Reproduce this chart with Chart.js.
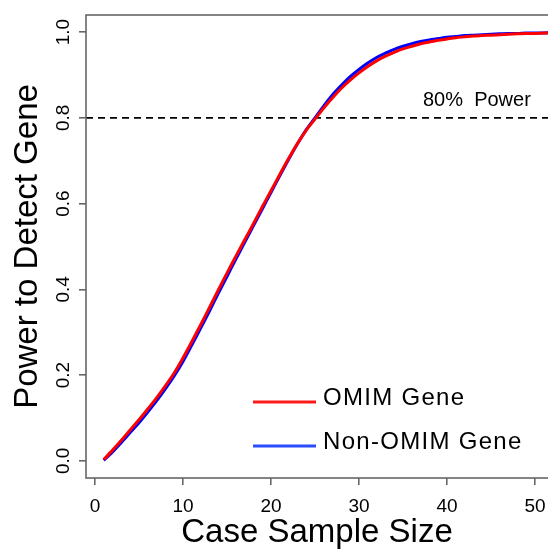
<!DOCTYPE html>
<html>
<head>
<meta charset="utf-8">
<script src="https://cdn.jsdelivr.net/npm/chart.js@4.4.1/dist/chart.umd.min.js"></script>
<style>
html,body{margin:0;padding:0;background:#fff;}
#wrap{width:548px;height:553px;}
</style>
</head>
<body>
<div id="wrap"><canvas id="c" width="548" height="553"></canvas></div>
<script>
const sampleSizes = [1,2,3,4,5,6,7,8,9,10,11,12,13,14,15,16,17,18,19,20,21,22,23,24,25,26,27,28,29,30,31,32,33,34,35,36,37,38,39,40,41,42,43,44,45,46,47,48,49,50,51,52];
const omimPower = [0.003,0.025,0.048,0.072,0.096,0.121,0.147,0.175,0.205,0.240,0.278,0.317,0.357,0.398,0.438,0.477,0.515,0.553,0.592,0.630,0.668,0.705,0.740,0.771,0.797,0.823,0.847,0.869,0.888,0.905,0.920,0.933,0.944,0.953,0.961,0.967,0.973,0.977,0.981,0.984,0.987,0.989,0.991,0.992,0.993,0.994,0.995,0.996,0.997,0.997,0.998,0.998];
const nonOmimPower = [0.001,0.021,0.043,0.066,0.089,0.114,0.140,0.168,0.198,0.232,0.270,0.309,0.349,0.390,0.430,0.470,0.509,0.548,0.587,0.626,0.665,0.703,0.739,0.772,0.800,0.828,0.854,0.876,0.896,0.913,0.928,0.941,0.951,0.960,0.967,0.973,0.978,0.982,0.985,0.988,0.990,0.992,0.993,0.994,0.995,0.996,0.997,0.997,0.998,0.998,0.998,0.999];
const seriesNames = ['OMIM Gene','Non-OMIM Gene'];
const seriesColors = ['#ff0000','#0000ff'];
const legendColors = ['#ff1a1a','#2a4dff'];
const xTickValues = [0,10,20,30,40,50];
const yTickValues = [0.0,0.2,0.4,0.6,0.8,1.0];
const thresholdValue = [0.8];
const thresholdLabel = ['80%  Power'];
const axisTitles = ['Case Sample Size','Power to Detect Gene'];

const FONT = "'Liberation Sans', Arial, Helvetica, sans-serif";

const omimPts = sampleSizes.map((n,i)=>({x:n,y:omimPower[i]}));
const nonPts = sampleSizes.map((n,i)=>({x:n,y:nonOmimPower[i]}));

const overlay = {
  id:'overlay',
  beforeDatasetsDraw(chart){
    const ctx = chart.ctx, a = chart.chartArea, ys = chart.scales.y;
    const yy = ys.getPixelForValue(thresholdValue[0]);
    ctx.save();
    ctx.strokeStyle = '#000';
    ctx.lineWidth = 1.6;
    ctx.setLineDash([7,5]);
    ctx.beginPath();
    ctx.moveTo(a.left, yy);
    ctx.lineTo(a.right, yy);
    ctx.stroke();
    ctx.restore();
  },
  afterDraw(chart){
    const ctx = chart.ctx, a = chart.chartArea, ys = chart.scales.y;
    ctx.save();
    ctx.strokeStyle = '#666';
    ctx.lineWidth = 1.6;
    ctx.strokeRect(a.left, a.top, a.right - a.left + 10, a.bottom - a.top);
    const yy = ys.getPixelForValue(thresholdValue[0]);
    ctx.fillStyle = '#000';
    ctx.font = '20px ' + FONT;
    ctx.textAlign = 'left';
    ctx.textBaseline = 'alphabetic';
    ctx.fillText(thresholdLabel[0], 423, yy - 12);
    const rows = [402, 446];
    ctx.font = '24px ' + FONT;
    try { ctx.letterSpacing = '1.3px'; } catch(e) {}
    ctx.textBaseline = 'middle';
    seriesNames.forEach((name,i)=>{
      ctx.strokeStyle = legendColors[i];
      ctx.lineWidth = 3;
      ctx.beginPath();
      ctx.moveTo(253, rows[i]);
      ctx.lineTo(316, rows[i]);
      ctx.stroke();
      ctx.fillStyle = '#000';
      ctx.fillText(name, 323, rows[i] - 4);
    });
    ctx.restore();
  }
};

new Chart(document.getElementById('c'), {
  type:'line',
  data:{
    datasets:[
      {label:seriesNames[0], data:omimPts, borderColor:seriesColors[0], borderWidth:3, pointRadius:0, tension:0.3, fill:false},
      {label:seriesNames[1], data:nonPts, borderColor:seriesColors[1], borderWidth:3, pointRadius:0, tension:0.3, fill:false}
    ]
  },
  options:{
    responsive:false,
    animation:false,
    events:[],
    layout:{padding:{top:15,right:0,left:0,bottom:0}},
    plugins:{legend:{display:false}, tooltip:{enabled:false}},
    scales:{
      x:{
        type:'linear', min:-1.02, max:51.48,
        afterBuildTicks(s){ s.ticks = xTickValues.map(v=>({value:v})); },
        afterFit(s){ s.height = 75; s.paddingRight = 0; s.paddingLeft = 0; },
        ticks:{font:{size:19, family:FONT}, color:'#000', padding:10, maxRotation:0, callback:v=>String(v)},
        grid:{display:true, drawOnChartArea:false, drawTicks:true, tickLength:7, color:'#666', lineWidth:1.6},
        border:{display:false},
        title:{display:true, text:axisTitles[0], font:{size:33, family:FONT}, color:'#000', padding:{top:0,bottom:0}}
      },
      y:{
        type:'linear', min:-0.04, max:1.04,
        afterBuildTicks(s){ s.ticks = yTickValues.map(v=>({value:v})); },
        afterFit(s){ s.width = 86; s.paddingTop = 0; s.paddingBottom = 0; },
        ticks:{font:{size:19, family:FONT}, color:'#000', padding:2, minRotation:90, maxRotation:90, crossAlign:'center', callback:v=>Number(v).toFixed(1)},
        grid:{display:true, drawOnChartArea:false, drawTicks:true, tickLength:7, color:'#666', lineWidth:1.6},
        border:{display:false},
        title:{display:true, text:axisTitles[1], font:{size:33, family:FONT}, color:'#000', padding:{top:8,bottom:0}}
      }
    }
  },
  plugins:[overlay]
});
</script>
</body>
</html>
